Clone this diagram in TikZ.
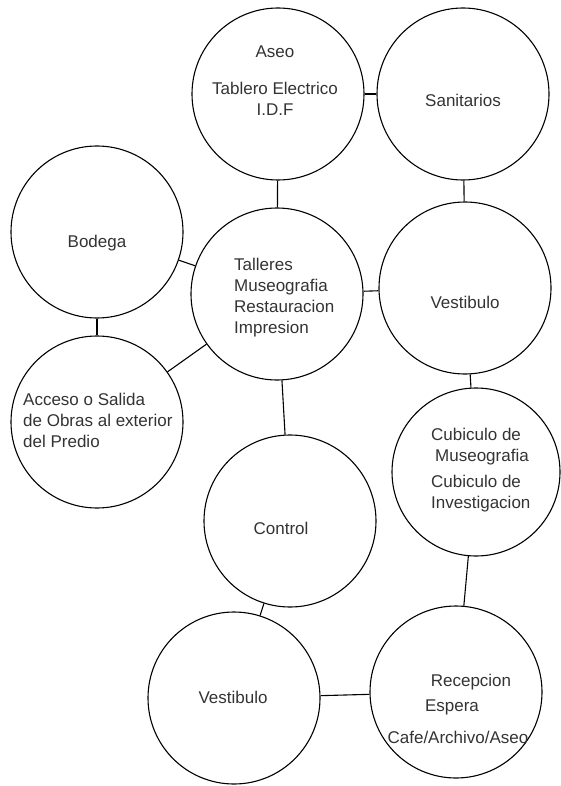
\documentclass[tikz,border=0pt]{standalone}
\usepackage{fontspec}
\setmainfont{Liberation Sans}
\tikzset{
  room/.style={draw, circle, line width=1.1pt, minimum size=172pt, inner sep=0pt},
  txt/.style={font=\fontsize{17}{21}\selectfont, text=black!80, inner sep=0pt},
  link/.style={line width=1.1pt}
}
\begin{document}
\begin{tikzpicture}[x=1pt, y=-1pt]
  \useasboundingbox (0,0) rectangle (561,786);
  % rooms
  \node[room] (aseo) at (278,94) {};
  \node[room] (sanit) at (463,94) {};
  \node[room] (bodega) at (97,232) {};
  \node[room] (talleres) at (277,294) {};
  \node[room] (vest) at (465,288) {};
  \node[room] (acceso) at (97,422) {};
  \node[room, minimum size=168pt] (cubiculo) at (476,472) {};
  \node[room] (control) at (290,521) {};
  \node[room] (vestb) at (234,698) {};
  \node[room] (recep) at (456,692) {};
  % labels
  \node[txt, align=center] (aseotxt) at (275,81) {Aseo\\[16pt]Tablero Electrico\\I.D.F};
  \node[txt] (sanittxt) at (463,100) {Sanitarios};
  \node[txt] (bodegatxt) at (97,243) {Bodega};
  \node[txt, align=left, anchor=west] (tallerestxt) at (234,298) {Talleres\\Museografia\\Restauracion\\Impresion};
  \node[txt] (vesttxt) at (465,302) {Vestibulo};
  \node[txt, align=left, anchor=west] (accesotxt) at (23,420) {Acceso o Salida\\de Obras al exterior\\del Predio};
  \node[txt, align=left, anchor=west] (cubiculotxt) at (431,470) {Cubiculo de\\\hspace*{4pt}Museografia\\[5pt]Cubiculo de\\Investigacion};
  \node[txt] (controltxt) at (281,528) {Control};
  \node[txt] (vestbtxt) at (233,697) {Vestibulo};
  \node[txt] (receptxt) at (471,682) {Recepcion};
  \node[txt] (esperatxt) at (452,707) {Espera};
  \node[txt] (cafetxt) at (458,737) {Cafe/Archivo/Aseo};
  % links
  \draw[link] (aseo) -- (sanit);
  \draw[link] (aseo) -- (talleres);
  \draw[link] (sanit) -- (vest);
  \draw[link] (bodega) -- (talleres);
  \draw[link] (bodega) -- (acceso);
  \draw[link] (acceso) -- (talleres);
  \draw[link] (talleres) -- (vest);
  \draw[link] (talleres) -- (control);
  \draw[link] (vest) -- (cubiculo);
  \draw[link] (cubiculo) -- (recep);
  \draw[link] (control) -- (vestb);
  \draw[link] (vestb) -- (recep);
\end{tikzpicture}
\end{document}
